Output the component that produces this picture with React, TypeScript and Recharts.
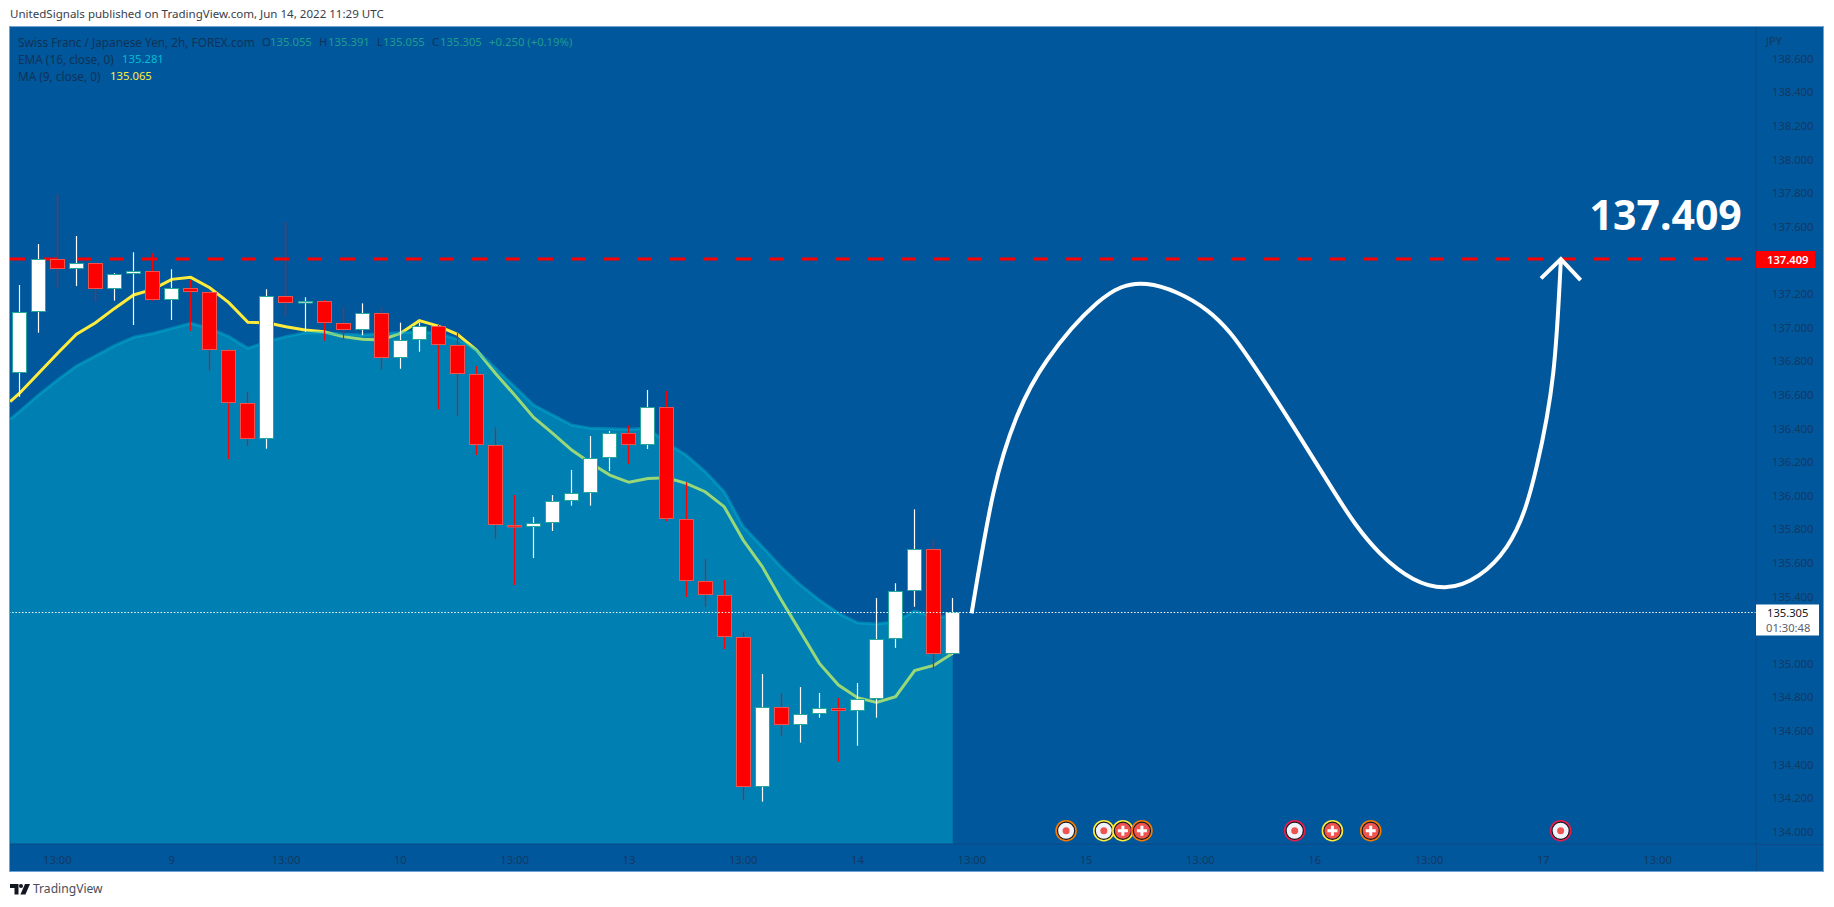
import React from "react";
import {
  ComposedChart,
  XAxis,
  YAxis,
  Bar,
  Line,
  Area,
  ReferenceLine,
  ReferenceDot,
} from "recharts";

const FONT = "'Noto Sans', sans-serif";
const BG = "#01579B";
const TICK = "#123a63";

const headerText = "UnitedSignals published on TradingView.com, Jun 14, 2022 11:29 UTC";

const opens = [136.729,137.095,137.407,137.348,137.387,137.229,137.321,137.339,137.163,137.238,137.214,136.866,136.552,136.340,137.191,137.145,137.161,137.026,136.985,137.089,136.818,136.925,137.008,136.895,136.723,136.300,135.827,135.816,135.836,135.970,136.018,136.226,136.375,136.300,136.526,135.863,135.491,135.407,135.157,134.264,134.744,134.637,134.699,134.735,134.720,134.788,135.145,135.431,135.681,135.055];
const highs = [137.254,137.498,137.796,137.546,137.392,137.325,137.449,137.443,137.348,137.284,137.216,136.870,136.619,137.229,137.629,137.181,137.165,137.121,137.145,137.121,137.030,137.030,137.016,136.970,136.772,136.407,136.004,135.873,136.004,136.153,136.355,136.385,136.419,136.629,136.623,136.080,135.623,135.498,135.191,134.939,134.824,134.861,134.826,134.796,134.885,135.391,135.479,135.919,135.741,135.391];
const lows = [136.589,136.970,137.238,137.248,137.155,137.161,137.016,137.161,137.046,136.982,136.744,136.218,136.296,136.280,137.066,136.976,136.923,136.931,136.955,136.752,136.756,136.857,136.514,136.476,136.242,135.741,135.469,135.629,135.790,135.941,135.941,136.147,136.190,136.278,135.849,135.397,135.338,135.088,134.189,134.179,134.571,134.530,134.679,134.417,134.512,134.679,135.095,135.339,134.967,135.055];
const closes = [137.095,137.407,137.348,137.387,137.229,137.321,137.339,137.163,137.238,137.214,136.866,136.552,136.340,137.191,137.145,137.161,137.026,136.985,137.089,136.818,136.925,137.008,136.895,136.723,136.300,135.827,135.816,135.836,135.970,136.018,136.226,136.375,136.300,136.526,135.863,135.491,135.407,135.157,134.264,134.744,134.637,134.699,134.735,134.720,134.788,135.145,135.431,135.681,135.055,135.305];

const maValues = [136.560,136.609,136.728,136.847,136.961,137.030,137.115,137.195,137.228,137.288,137.300,137.238,137.149,137.032,137.030,137.006,136.986,136.976,136.947,136.931,136.927,136.966,137.042,137.010,136.961,136.867,136.728,136.599,136.466,136.371,136.272,136.193,136.123,136.080,136.103,136.107,136.074,136.024,135.935,135.736,135.578,135.379,135.191,135.002,134.873,134.798,134.770,134.804,134.959,134.990,135.062];
const emaValues = [136.455,136.500,136.599,136.689,136.772,136.832,136.893,136.943,136.966,136.996,137.026,136.996,136.947,136.877,136.917,136.947,136.970,136.972,136.961,136.957,136.966,136.970,136.976,136.966,136.931,136.867,136.758,136.649,136.540,136.480,136.421,136.401,136.399,136.395,136.401,136.312,136.242,136.143,136.024,135.816,135.697,135.574,135.469,135.379,135.300,135.244,135.236,135.250,135.314,135.280,135.281];
const indicatorBars = [-0.48,0,1,2,3,4,5,6,7,8,9,10,11,12,13,14,15,16,17,18,19,20,21,22,23,24,25,26,27,28,29,30,31,32,33,34,35,36,37,38,39,40,41,42,43,44,45,46,47,48,49];

const pathBars = [49.99,51.13,52.36,53.96,56.56,59.18,62.33,64.60,66.88,69.07,71.43,74.84,78.08,79.65,80.52,80.92];
const pathPrices = [135.300,136.014,136.470,136.808,137.145,137.260,137.105,136.808,136.411,136.014,135.657,135.455,135.696,136.173,136.729,137.403];
const arrowBars = [79.88,80.92,81.96];
const arrowPrices = [137.294,137.409,137.284];

const eventBars = [54.95,56.93,57.93,58.93,66.95,68.93,70.94,80.91];
const eventRings = ["#f57c00","#ffeb3b","#ffeb3b","#f57c00","#e91e4d","#ffeb3b","#f57c00","#e91e4d"];
const eventFlags = [false,false,true,true,false,true,true,false];
const eventPrice = 134.006;

const targetPrice = 137.409;
const lastPrice = 135.305;
const countdown = "01:30:48";
const domainBars = [-0.488, 91.165];

const priceTicks = [134,134.2,134.4,134.6,134.8,135,135.4,135.6,135.8,136,136.2,136.4,136.6,136.8,137,137.2,137.6,137.8,138,138.2,138.4,138.6];
const timeTicks = [2,8,14,20,26,32,38,44,50,56,62,68,74,80,86];
const timeLabels = ["13:00","9","13:00","10","13:00","13","13:00","14","13:00","15","13:00","16","13:00","17","13:00"];

const candleRows = opens.map((open, i) => ({
  x: i,
  open,
  high: highs[i],
  low: lows[i],
  close: closes[i],
}));
const maRows = indicatorBars.map((x, i) => ({ x, ma: maValues[i] }));
const emaRows = indicatorBars.map((x, i) => ({ x, ema: emaValues[i] }));
const pathRows = pathBars.map((x, i) => ({ x, path: pathPrices[i] }));
const arrowRows = arrowBars.map((x, i) => ({ x, arrow: arrowPrices[i] }));
const targetRows = domainBars.map((x) => ({ x, target: targetPrice }));

const Candle = (props: any) => {
  const { x, y, width, height, payload } = props;
  const { open, high, low, close } = payload;
  const up = close >= open;
  const at = (p: number) => y + ((high - p) / (high - low)) * height;
  const cx = Math.floor(x + width / 2) + 0.5;
  const top = Math.round(at(Math.max(open, close))) + 0.5;
  const bottom = Math.round(at(Math.min(open, close))) - 0.5;
  const wick = up ? "#ffffff" : "#ff0000";
  return (
    <g>
      <line x1={cx} x2={cx} y1={y} y2={y + height} stroke={wick} strokeWidth={1.2} />
      <rect
        x={cx - 7}
        y={top}
        width={14}
        height={Math.max(1.5, bottom - top)}
        fill={up ? "#ffffff" : "#ff0000"}
        stroke={up ? "#26a69a" : "#ef5350"}
        strokeWidth={1}
      />
    </g>
  );
};

const EventMark = (ring: string, flag: boolean) => (props: any) => {
  const { cx, cy } = props;
  return (
    <g>
      <circle cx={cx} cy={cy} r={10} fill="#131722" stroke={ring} strokeWidth={1.6} />
      <circle cx={cx} cy={cy} r={8} fill={flag ? "#ef5350" : "#f0f3fa"} />
      {flag ? (
        <path
          d={`M${cx - 1.5} ${cy - 5}h3v3.5h3.5v3h-3.5v3.5h-3v-3.5h-3.5v-3h3.5z`}
          fill="#ffffff"
        />
      ) : (
        <circle cx={cx} cy={cy} r={3.5} fill="#ef5350" />
      )}
    </g>
  );
};

const RedTag = (props: any) => {
  const { cx, cy } = props;
  return (
    <g>
      <rect x={cx} y={cy - 8} width={59} height={17} fill="#ff0000" />
      <text x={cx + 11} y={cy + 4.5} fontFamily={FONT} fontSize={11.2} fontWeight={600} fill="#ffffff">
        {targetPrice.toFixed(3)}
      </text>
    </g>
  );
};

const LastTag = (props: any) => {
  const { cx, cy } = props;
  return (
    <g>
      <rect x={cx} y={cy - 8} width={63} height={31} fill="#ffffff" />
      <text x={cx + 11} y={cy + 4.5} fontFamily={FONT} fontSize={11.2} fill="#131722">
        {lastPrice.toFixed(3)}
      </text>
      <text x={cx + 10} y={cy + 19.5} fontFamily={FONT} fontSize={11.2} fill="#5d606b">
        {countdown}
      </text>
    </g>
  );
};

const BigLabel = (props: any) => {
  const { cx, cy } = props;
  return (
    <text
      x={cx + 181}
      y={cy - 29.5}
      textAnchor="end"
      fontFamily={FONT}
      fontSize={41}
      fontWeight={700}
      fill="#ffffff"
    >
      {targetPrice.toFixed(3)}
    </text>
  );
};

const abs = (left: number, top: number, extra: React.CSSProperties = {}): React.CSSProperties => ({
  position: "absolute",
  left,
  top,
  fontFamily: FONT,
  fontSize: 11.3,
  lineHeight: "16px",
  whiteSpace: "nowrap",
  ...extra,
});

const LEG = "#0f3358";
const GREEN = "#1f9c8e";

export default function App() {
  return (
    <div style={{ position: "absolute", left: 0, top: 0, width: 1834, height: 907, background: "#ffffff", overflow: "hidden" }}>
      <div style={abs(10, 6, { fontSize: 11.55, color: "#3a3e4a" })}>{headerText}</div>
      <div
        style={{
          position: "absolute",
          left: 9,
          top: 26,
          width: 1813,
          height: 844,
          background: BG,
          border: "1px solid #6fa3d6",
        }}
      />
      <div style={{ position: "absolute", left: 1756, top: 844, width: 1, height: 27, background: "#0d4a84" }} />
      <div style={{ position: "absolute", left: 1756, top: 844, width: 67, height: 1, background: "#0d4a84" }} />
      <div style={{ position: "absolute", left: 0, top: 0 }}>
        <ComposedChart
          width={1834}
          height={907}
          data={candleRows}
          margin={{ top: 27, left: 10, right: 0, bottom: 0 }}
          style={{ background: "transparent" }}
        >
          <XAxis
            dataKey="x"
            type="number"
            domain={domainBars}
            allowDataOverflow
            ticks={timeTicks}
            interval={0}
            height={63}
            axisLine={{ stroke: "#0d4a84" }}
            tickLine={false}
            tickMargin={6}
            tick={{ fill: TICK, fontFamily: FONT, fontSize: 11.2 }}
            tickFormatter={(v: number) => timeLabels[timeTicks.indexOf(v)]}
          />
          <YAxis
            orientation="right"
            type="number"
            width={78}
            domain={[133.927, 138.79]}
            allowDataOverflow
            ticks={priceTicks}
            interval={0}
            axisLine={{ stroke: "#0d4a84" }}
            tickLine={false}
            tickMargin={10}
            tick={{ fill: TICK, fontFamily: FONT, fontSize: 11.2, textAnchor: "start" }}
            tickFormatter={(v: number) => v.toFixed(3)}
          />
          <Line
            data={maRows}
            dataKey="ma"
            type="linear"
            stroke="#ffeb3b"
            strokeWidth={3}
            dot={false}
            activeDot={false}
            isAnimationActive={false}
            legendType="none"
            zIndex={90}
          />
          <Area
            data={emaRows}
            dataKey="ema"
            type="linear"
            stroke="rgba(0,188,212,0.42)"
            strokeWidth={3}
            fill="#00bcd4"
            fillOpacity={0.4}
            dot={false}
            activeDot={false}
            isAnimationActive={false}
            legendType="none"
            zIndex={100}
          />
          <Line
            data={targetRows}
            dataKey="target"
            type="linear"
            stroke="#ff0000"
            strokeWidth={3}
            strokeDasharray="15 18"
            dot={false}
            activeDot={false}
            isAnimationActive={false}
            legendType="none"
            zIndex={200}
          />
          <Bar
            dataKey={(d: any) => [d.low, d.high]}
            barSize={14}
            shape={Candle}
            isAnimationActive={false}
            legendType="none"
            zIndex={300}
          />
          <Line
            data={pathRows}
            dataKey="path"
            type="natural"
            stroke="#ffffff"
            strokeWidth={4}
            dot={false}
            activeDot={false}
            isAnimationActive={false}
            legendType="none"
            zIndex={400}
          />
          <Line
            data={arrowRows}
            dataKey="arrow"
            type="linear"
            stroke="#ffffff"
            strokeWidth={4}
            dot={false}
            activeDot={false}
            isAnimationActive={false}
            legendType="none"
            zIndex={410}
          />
          <ReferenceLine y={lastPrice} stroke="#ffffff" strokeWidth={1} strokeDasharray="1.5 1.8" zIndex={420} />
          {eventBars.map((x, i) => (
            <ReferenceDot
              key={i}
              x={x}
              y={eventPrice}
              r={10}
              ifOverflow="visible"
              shape={EventMark(eventRings[i], eventFlags[i])}
            />
          ))}
          <ReferenceDot x={91.165} y={targetPrice} r={1} ifOverflow="visible" shape={RedTag} />
          <ReferenceDot x={91.165} y={lastPrice} r={1} ifOverflow="visible" shape={LastTag} />
          <ReferenceDot x={80.92} y={targetPrice} r={1} ifOverflow="visible" shape={BigLabel} />
        </ComposedChart>
      </div>
      <div style={abs(18, 34, { color: LEG, fontSize: 11.8 })}>Swiss Franc / Japanese Yen, 2h, FOREX.com</div>
      <div style={abs(262, 34, { color: LEG })}>O</div>
      <div style={abs(270, 34, { color: GREEN })}>135.055</div>
      <div style={abs(319, 34, { color: LEG })}>H</div>
      <div style={abs(328, 34, { color: GREEN })}>135.391</div>
      <div style={abs(377, 34, { color: LEG })}>L</div>
      <div style={abs(383, 34, { color: GREEN })}>135.055</div>
      <div style={abs(432, 34, { color: LEG })}>C</div>
      <div style={abs(440, 34, { color: GREEN })}>135.305</div>
      <div style={abs(489, 34, { color: GREEN })}>+0.250 (+0.19%)</div>
      <div style={abs(18, 51, { color: LEG, fontSize: 11.8 })}>EMA (16, close, 0)</div>
      <div style={abs(122, 51, { color: "#00bcd4" })}>135.281</div>
      <div style={abs(18, 68, { color: LEG, fontSize: 11.8 })}>MA (9, close, 0)</div>
      <div style={abs(110, 68, { color: "#ffeb3b" })}>135.065</div>
      <div style={abs(1766, 33, { color: TICK, fontSize: 11.2 })}>JPY</div>
      <svg style={{ position: "absolute", left: 10, top: 884 }} width="20" height="11" viewBox="0 0 20 11">
        <path d="M0 0h8.5v10.5h-4V4H0z" fill="#131722" />
        <circle cx="11" cy="2" r="2" fill="#131722" />
        <path d="M15 0h5l-4.6 10.5h-5z" fill="#131722" />
      </svg>
      <div style={abs(33, 881, { fontSize: 12.1, color: "#4a4e5a" })}>TradingView</div>
    </div>
  );
}
